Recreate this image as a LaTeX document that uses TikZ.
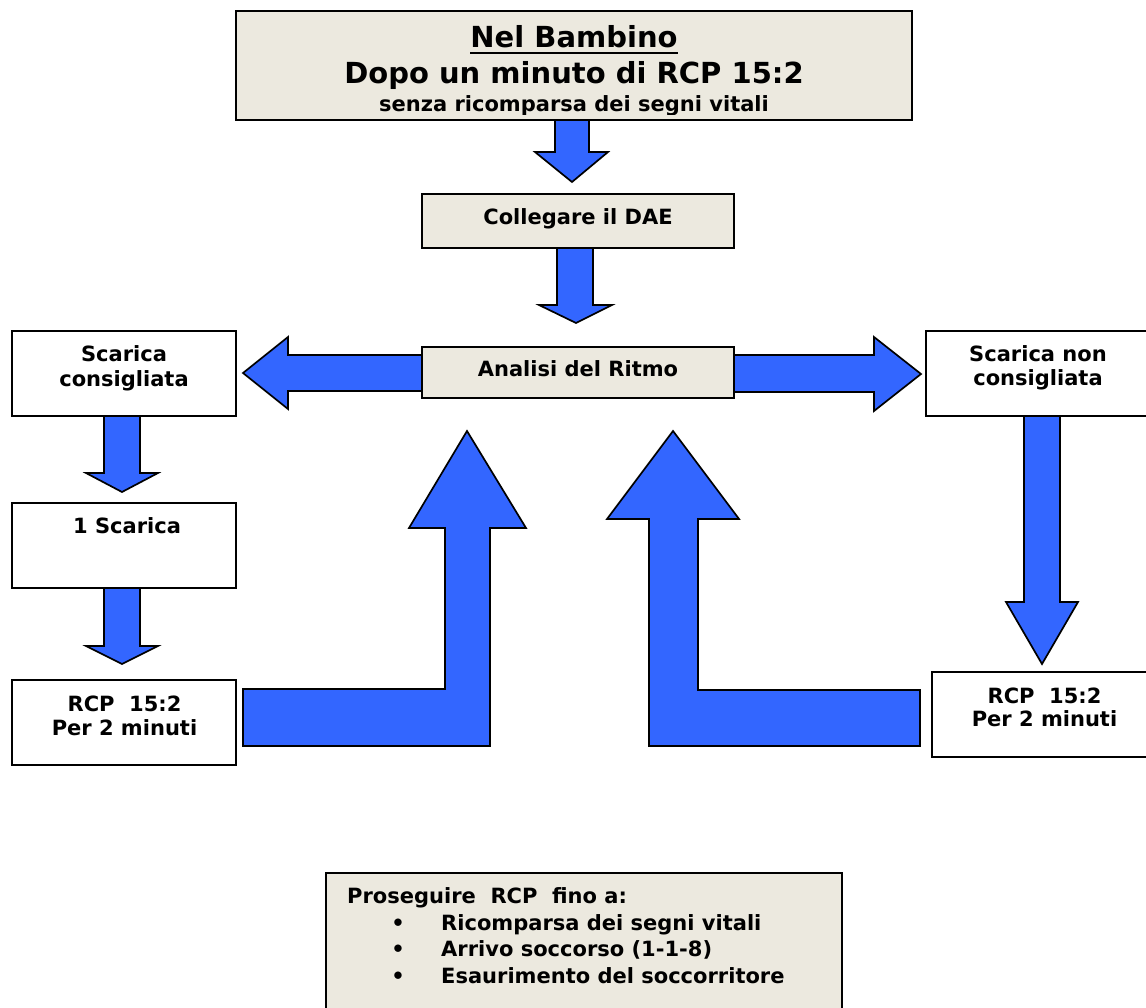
\documentclass[tikz,border=0pt]{standalone}
\usepackage{fontspec}
\setmainfont{DejaVu Sans}
\definecolor{arrowblue}{RGB}{51,102,255}
\definecolor{boxbeige}{RGB}{236,233,223}
\tikzset{
  box/.style={draw=black, line width=1.8pt, fill=white, anchor=north west,
    minimum width=224pt, minimum height=85pt, inner sep=0pt, outer sep=0pt},
  beigebox/.style={box, fill=boxbeige},
  lbl/.style={font=\fontsize{21}{25}\selectfont\bfseries, anchor=base, inner sep=0pt},
  biglbl/.style={lbl, font=\fontsize{29}{34}\selectfont\bfseries},
  blockarrow/.style={draw=black, line width=1.7pt, fill=arrowblue, line join=miter},
}
\begin{document}
\begin{tikzpicture}[x=1pt, y=-1pt]
\useasboundingbox (0,0) rectangle (1146,1008);

% block arrows (drawn first, boxes sit on top of their ends)
\draw[blockarrow] (555,120) -- (555,152) -- (535,152) -- (572,182) -- (608,152) -- (589,152) -- (589,120);
\draw[blockarrow] (557,248) -- (557,305) -- (539,305) -- (576,323) -- (612,305) -- (593,305) -- (593,248);
\draw[blockarrow] (422,355) -- (288,355) -- (288,337) -- (243,373) -- (288,409) -- (288,391) -- (422,391);
\draw[blockarrow] (734,355) -- (874,355) -- (874,337) -- (921,374) -- (874,411) -- (874,392) -- (734,392);
\draw[blockarrow] (104,416) -- (104,473) -- (86,473) -- (122,492) -- (158,473) -- (140,473) -- (140,416);
\draw[blockarrow] (104,588) -- (104,646) -- (86,646) -- (122,664) -- (158,646) -- (140,646) -- (140,588);
\draw[blockarrow] (1024,416) -- (1024,602) -- (1006,602) -- (1042,664) -- (1078,602) -- (1060,602) -- (1060,416);
\draw[blockarrow] (243,689) -- (445,689) -- (445,528) -- (409,528) -- (467,431) -- (526,528)
  -- (490,528) -- (490,746) -- (243,746) -- cycle;
\draw[blockarrow] (920,690) -- (698,690) -- (698,519) -- (739,519) -- (673,431) -- (607,519)
  -- (649,519) -- (649,746) -- (920,746) -- cycle;

% boxes
\node[beigebox, minimum width=676pt, minimum height=109pt] (top) at (236,11) {};
\node[beigebox, minimum width=312pt, minimum height=54pt] (dae) at (422,194) {};
\node[beigebox, minimum width=312pt, minimum height=51pt] (rhythm) at (422,347) {};
\node[box] (shockyes) at (12,331) {};
\node[box] (shockno) at (926,331) {};
\node[box] (oneshock) at (12,503) {};
\node[box] (cprleft) at (12,680) {};
\node[box] (cprright) at (932,672) {};
\node[beigebox, minimum width=516pt, minimum height=150pt] (goal) at (326,873) {};

% texts
\node[biglbl] (t1) at (574,48) {Nel Bambino};
\draw[line width=2.2pt] ([yshift=-5pt]t1.base west) -- ([yshift=-5pt]t1.base east);
\node[biglbl] (t2) at (574,84) {Dopo un minuto di RCP 15:2};
\begin{scope}
  \clip (236,11) rectangle (912,115);
  \node[lbl] (t3) at (574,112) {senza ricomparsa dei segni vitali};
\end{scope}
\node[lbl] (daetxt) at (578,225) {Collegare il DAE};
\node[lbl] (rhytxt) at (578,377) {Analisi del Ritmo};
\node[lbl] (sy1) at (124,362) {Scarica};
\node[lbl] (sy2) at (124,386) {consigliata};
\node[lbl] (sn1) at (1038,362) {Scarica non};
\node[lbl] (sn2) at (1038,385) {consigliata};
\node[lbl] (os) at (127,533) {1 Scarica};
\node[lbl] (cl1) at (124.5,711) {RCP\ \ 15:2};
\node[lbl] (cl2) at (124.5,735) {Per 2 minuti};
\node[lbl] (cr1) at (1044.5,703) {RCP\ \ 15:2};
\node[lbl] (cr2) at (1044.5,726) {Per 2 minuti};
\node[lbl, anchor=base west] (g0) at (347,903) {Proseguire\ \ RCP\ \ fino a:};
\node[lbl] (b1) at (398,930) {•};
\node[lbl] (b2) at (398,956.5) {•};
\node[lbl] (b3) at (398,983) {•};
\node[lbl, anchor=base west] (g1) at (441,930) {Ricomparsa dei segni vitali};
\node[lbl, anchor=base west] (g2) at (441,956.5) {Arrivo soccorso (1-1-8)};
\node[lbl, anchor=base west] (g3) at (441,983) {Esaurimento del soccorritore};
\end{tikzpicture}
\end{document}
